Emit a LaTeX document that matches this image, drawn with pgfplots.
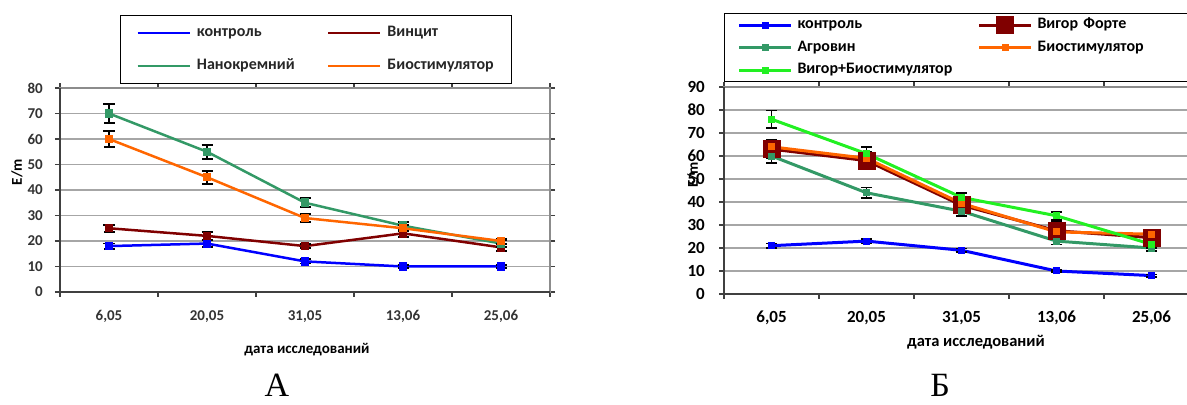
\documentclass[border=0pt]{standalone}
\usepackage{pgfplots}
\pgfplotsset{compat=1.18}
\usepackage{fontspec}
\setmainfont{Carlito}
\newfontfamily\serifA{Liberation Serif}
\definecolor{cblue}{HTML}{0000FF}
\definecolor{cred}{HTML}{800000}
\definecolor{cgreen}{HTML}{339966}
\definecolor{corange}{HTML}{FF6600}
\definecolor{clime}{HTML}{22F022}
\definecolor{gridc}{HTML}{A6A6A6}
\definecolor{axc}{HTML}{404040}
\definecolor{boxc}{HTML}{8C8C8C}

\pgfplotsset{
  common/.style={
    scale only axis, xmin=-0.5, xmax=4.5, ymin=0,
    xtick={0,1,2,3,4},
    xticklabels={{6,05},{20,05},{31,05},{13,06},{25,06}},
    minor xtick={-0.5,0.5,1.5,2.5,3.5,4.5},
    tick align=outside,
    major tick length=5bp, minor tick length=5bp,
    major x tick style={draw=none},
    minor x tick style={axc, line width=1.3bp},
    major y tick style={axc, line width=1.3bp},
    ymajorgrids,
    major grid style={gridc, line width=1.3bp},
    axis line style={boxc, line width=1.5bp},
    /pgf/number format/assume math mode=true,
    error bars/y dir=both, error bars/y explicit,
    error bars/error mark options={black, mark size=5.5bp, line width=1.8bp, rotate=90},
    error bars/error bar style={black, line width=1.8bp},
    legend cell align=left,
    after end axis/.code={\draw[axc, line width=2bp] (rel axis cs:0,1) -- (rel axis cs:0,0) -- (rel axis cs:1,0);},
  }
}

\begin{document}
\begin{tikzpicture}
\useasboundingbox (0,0) rectangle (1187bp,405bp);

% ---------------- A ----------------
\begin{axis}[common,
  at={(60bp,113bp)}, anchor=south west,
  width=490bp, height=204bp,
  ymax=80, ytick={0,10,...,80},
  yticklabel style={font=\fontsize{15bp}{15bp}\selectfont\bfseries, text=black!80, anchor=east, inner sep=0pt, xshift=-12bp},
  xticklabel style={font=\fontsize{15bp}{15bp}\selectfont\bfseries, text=black!80, anchor=base, inner sep=0pt, yshift=-23bp},
  xlabel={дата исследований},
  xlabel style={font=\fontsize{15bp}{15bp}\selectfont\bfseries, at={(axis description cs:0.504,-0.284)}, anchor=center},
  ylabel={E/m},
  ylabel style={font=\fontsize{15bp}{15bp}\selectfont\bfseries, at={(axis description cs:-0.0878,0.588)}, anchor=center},
  legend image code/.code={\draw[#1] (0bp,0bp) -- (52bp,0bp);},
  legend columns=2,
  legend style={at={(axis description cs:0.1224,1.3578)}, anchor=north west,
    draw=black, line width=1bp, fill=white,
    inner xsep=16bp, inner ysep=10bp,
    row sep=18bp, column sep=6bp,
    /tikz/every even column/.append style={column sep=22bp},
    nodes={font=\fontsize{16bp}{16bp}\selectfont\bfseries, text=black!85, inner sep=0pt, text width=108bp, text height=11bp, text depth=4bp}},
]
\addplot[cblue, line width=2.5bp, mark=square*, mark size=3bp]
  coordinates {(0,18)+-(0,1) (1,19)+-(0,1.3) (2,12)+-(0,0.8) (3,10)+-(0,0.5) (4,10)+-(0,0.5)};
\addlegendentry{контроль}
\addplot[cred, line width=2.5bp, mark=square*, mark size=3bp]
  coordinates {(0,25)+-(0,1.4) (1,22)+-(0,1.6) (2,18)+-(0,0.8) (3,23)+-(0,1.5) (4,17.5)+-(0,1.3)};
\addlegendentry{Винцит}
\addplot[cgreen, line width=2.5bp, mark=square*, mark size=3bp]
  coordinates {(0,70)+-(0,3.6) (1,55)+-(0,2.8) (2,35)+-(0,1.8) (3,26)+-(0,1.5) (4,19)+-(0,1.3)};
\addlegendentry{Нанокремний}
\addplot[corange, line width=2.5bp, mark=square*, mark size=3bp]
  coordinates {(0,60)+-(0,3) (1,45)+-(0,2.5) (2,29)+-(0,1.6) (3,25)+-(0,1.2) (4,20)+-(0,1)};
\addlegendentry{Биостимулятор}
\end{axis}

% ---------------- Б ----------------
\begin{axis}[common,
  at={(724bp,111bp)}, anchor=south west,
  width=475bp, height=207bp,
  ymax=90, ytick={0,10,...,90},
  yticklabel style={font=\fontsize{17bp}{17bp}\selectfont\bfseries, text=black, anchor=east, inner sep=0pt, xshift=-14bp},
  xticklabel style={font=\fontsize{17bp}{17bp}\selectfont\bfseries, text=black, anchor=base, inner sep=0pt, yshift=-24bp},
  xlabel={дата исследований},
  xlabel style={font=\fontsize{16.5bp}{16.5bp}\selectfont\bfseries, at={(axis description cs:0.5305,-0.232)}, anchor=center},
  ylabel={E/m},
  ylabel style={font=\fontsize{15bp}{15bp}\selectfont\bfseries, at={(axis description cs:-0.0653,0.575)}, anchor=center},
  legend image code/.code={\draw[mark repeat=2,mark phase=2,#1] plot coordinates {(0bp,0bp) (26bp,0bp) (52bp,0bp)};},
  legend columns=2,
  legend style={at={(axis description cs:0,1.3575)}, anchor=north west,
    draw=black, line width=1bp, fill=white,
    inner xsep=13bp, inner ysep=4bp,
    row sep=7.5bp, column sep=5bp,
    /tikz/every even column/.append style={column sep=20bp},
    nodes={font=\fontsize{16bp}{16bp}\selectfont\bfseries, text=black, inner sep=0pt, text width=160bp, text height=11bp, text depth=4bp}},
]
\addplot[cblue, line width=3bp, mark=square*, mark size=2bp]
  coordinates {(0,21)+-(0,1) (1,23)+-(0,1) (2,19)+-(0,0.8) (3,10)+-(0,0.5) (4,8)+-(0,0.5)};
\addlegendentry{контроль}
\addplot[cred, line width=3bp, mark=square*, mark size=7.5bp]
  coordinates {(0,63)+-(0,4) (1,58)+-(0,2.5) (2,38.6)+-(0,2.5) (3,27.5)+-(0,4) (4,24.5)+-(0,2.5)};
\addlegendentry{Вигор Форте}
\addplot[cgreen, line width=3bp, mark=square*, mark size=2bp]
  coordinates {(0,60)+-(0,3) (1,44)+-(0,2.3) (2,36)+-(0,2) (3,23)+-(0,1.5) (4,20)+-(0,1.3)};
\addlegendentry{Агровин}
\addplot[corange, line width=3bp, mark=square*, mark size=2bp]
  coordinates {(0,64)+-(0,3) (1,59)+-(0,3) (2,39.4)+-(0,2) (3,27)+-(0,2) (4,26)+-(0,1.5)};
\addlegendentry{Биостимулятор}
\addplot[clime, line width=3bp, mark=square*, mark size=2bp]
  coordinates {(0,76)+-(0,3.8) (1,61)+-(0,3) (2,42)+-(0,2) (3,34)+-(0,1.8) (4,21.6)+-(0,1.5)};
\addlegendentry{Вигор+Биостимулятор}
\end{axis}

\node[font=\serifA\fontsize{34bp}{34bp}\selectfont, anchor=base, inner sep=0pt] at (277bp,9bp) {А};
\node[font=\serifA\fontsize{34bp}{34bp}\selectfont, anchor=base, inner sep=0pt] at (940bp,9bp) {Б};
\end{tikzpicture}
\end{document}
